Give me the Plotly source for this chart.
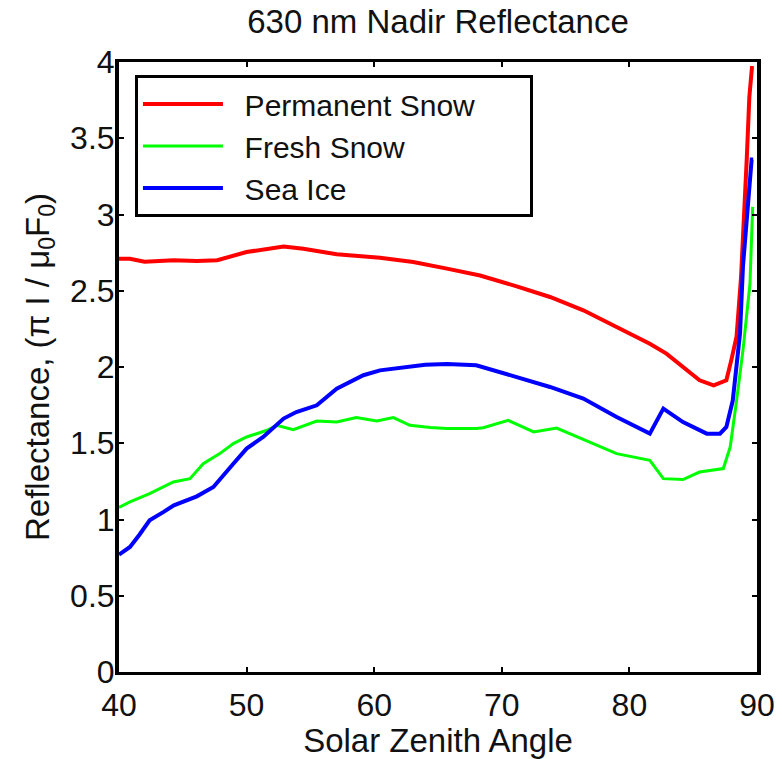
import plotly.graph_objects as go

# Solar zenith angle (deg) and reflectance values
perm_x = [40.0, 40.86, 42.0, 44.3, 46.1, 47.7, 50.0, 51.5, 52.9, 54.45, 57.06, 60.45,
          63.06, 65.7, 68.3, 71.17, 73.78, 76.39, 79.0, 81.6, 82.9, 84.2, 85.5, 86.6,
          87.6, 88.0, 88.4, 88.75, 89.0, 89.2, 89.4, 89.6, 89.75]
perm_y = [2.71, 2.71, 2.69, 2.70, 2.695, 2.70, 2.754, 2.775, 2.79, 2.776, 2.739, 2.717,
          2.689, 2.645, 2.60, 2.529, 2.459, 2.372, 2.262, 2.153, 2.088, 2.0, 1.913, 1.88,
          1.913, 2.05, 2.2, 2.59, 2.98, 3.37, 3.77, 3.96, 3.96]

fresh_x = [40.0, 40.86, 42.4, 44.26, 45.56, 46.6, 47.9, 48.96, 50.0, 51.6, 52.36, 53.66,
           55.5, 57.06, 58.6, 60.2, 61.5, 62.8, 64.4, 65.7, 68.0, 68.55, 70.5, 72.5,
           74.3, 76.39, 79.0, 81.6, 82.66, 84.2, 85.5, 87.36, 87.9, 88.4, 88.9, 89.45, 89.66]
fresh_y = [1.08, 1.115, 1.17, 1.246, 1.268, 1.366, 1.432, 1.498, 1.541, 1.585, 1.618, 1.589,
           1.646, 1.64, 1.668, 1.646, 1.668, 1.618, 1.604, 1.596, 1.596, 1.602, 1.65, 1.574,
           1.60, 1.524, 1.432, 1.388, 1.268, 1.262, 1.311, 1.334, 1.475, 1.78, 2.11, 2.547, 3.05]

ice_x = [40.0, 40.86, 41.6, 42.4, 43.5, 44.3, 46.1, 47.4, 48.96, 50.0, 51.3, 52.9, 53.9,
         55.5, 57.06, 59.15, 60.45, 62.3, 64.0, 65.7, 68.0, 71.17, 73.78, 76.39, 79.0,
         81.6, 82.66, 84.2, 86.06, 87.1, 87.6, 88.1, 88.67, 88.9, 89.3, 89.58, 89.7]
ice_y = [0.77, 0.82, 0.90, 0.995, 1.05, 1.093, 1.152, 1.213, 1.366, 1.465, 1.541, 1.662, 1.705,
         1.749, 1.858, 1.946, 1.978, 2.0, 2.015, 2.02, 2.011, 1.934, 1.869, 1.793, 1.672,
         1.563, 1.727, 1.639, 1.563, 1.563, 1.607, 1.78, 2.22, 2.66, 3.05, 3.36, 3.36]

x_ticks = [40, 50, 60, 70, 80, 90]
y_ticks = [0, 0.5, 1, 1.5, 2, 2.5, 3, 3.5, 4]
y_ticktext = ["0", "0.5", "1", "1.5", "2", "2.5", "3", "3.5", "4"]

series_names = ["Permanent Snow", "Fresh Snow", "Sea Ice"]

FONT = "Liberation Sans, Arial, Helvetica, sans-serif"
TXT = "#111"
NBSP = "\u00a0"


def legend_label(name):
    # non-breaking spaces reproduce the reference legend's wide text gap and box
    return NBSP * 2 + name + NBSP * 6


fig = go.Figure()
fig.add_trace(go.Scatter(x=perm_x, y=perm_y, mode="lines", name=legend_label(series_names[0]),
                         line=dict(color="#ff0000", width=4)))
fig.add_trace(go.Scatter(x=fresh_x, y=fresh_y, mode="lines", name=legend_label(series_names[1]),
                         line=dict(color="#00ff00", width=3)))
fig.add_trace(go.Scatter(x=ice_x, y=ice_y, mode="lines", name=legend_label(series_names[2]),
                         line=dict(color="#0000ff", width=4)))

fig.update_layout(
    width=782, height=759,
    margin=dict(l=119, r=25, t=62, b=87, autoexpand=False),
    paper_bgcolor="white", plot_bgcolor="white",
    font=dict(family=FONT, size=33, color=TXT),
    title=dict(text="630 nm Nadir Reflectance", x=0.5, xref="paper",
               y=1 - 21 / 759, yref="container", yanchor="middle",
               font=dict(size=33, color=TXT)),
    showlegend=True,
    legend=dict(x=0.025, y=0.9787, xanchor="left", yanchor="top",
                bgcolor="white", bordercolor="black", borderwidth=3,
                font=dict(size=30, color=TXT), itemwidth=80,
                tracegroupgap=0),
)
fig.update_xaxes(range=[40, 90], tickvals=x_ticks, ticks="inside", ticklen=5,
                 tickwidth=2, tickcolor="black", showline=True, linecolor="black",
                 linewidth=2.5, mirror="ticks", showgrid=False, zeroline=False,
                 automargin=False, ticklabelstandoff=3,
                 title=dict(text="Solar Zenith Angle", standoff=0,
                            font=dict(size=33, color=TXT)),
                 tickfont=dict(size=32, color=TXT))
fig.update_yaxes(range=[0, 4], tickvals=y_ticks, ticktext=y_ticktext, ticks="inside",
                 ticklen=5, tickwidth=2, tickcolor="black", showline=True,
                 linecolor="black", linewidth=4, mirror="ticks", showgrid=False,
                 zeroline=False, automargin=False, ticklabelstandoff=-6,
                 title=dict(text="Reflectance, (π I / μ<sub>0</sub>F<sub>0</sub>)",
                            standoff=12, font=dict(size=33, color=TXT)),
                 tickfont=dict(size=32, color=TXT))

fig.write_html("out.html", config={"displayModeBar": False},
               post_script="document.body.style.margin='0';")
